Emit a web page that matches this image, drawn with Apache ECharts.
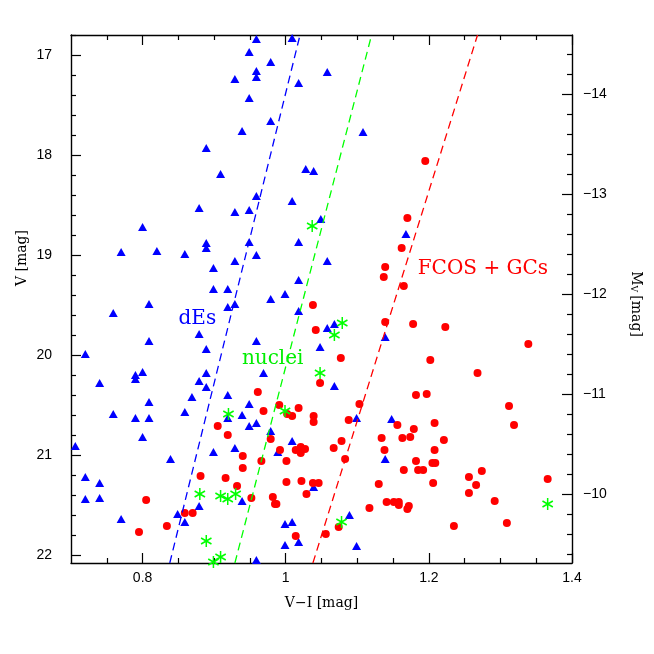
<!DOCTYPE html>
<html>
<head>
<meta charset="utf-8">
<script src="https://cdn.jsdelivr.net/npm/echarts@6/dist/echarts.min.js"></script>
<style>
html, body { margin: 0; background: #fff; }
#chart { width: 654px; height: 654px; }
</style>
</head>
<body>
<div id="chart"></div>
<script>
// distance modulus used for the right-hand axis (M_V = V - DM)
var DM = 31.39;

// dEs (blue triangles)
var dEsVI = [0.959, 1.009, 0.949, 0.979, 0.959, 0.929, 0.959, 1.018, 0.949, 0.979, 0.939, 0.889, 0.909, 1.028, 1.039,
  0.959, 1.009, 0.879, 0.929, 0.949, 1.058, 1.108, 1.049, 0.800, 0.889, 0.889, 0.949, 1.018, 0.770, 0.820, 0.859,
  0.959, 0.929, 0.899, 1.018, 0.899, 0.919, 0.809, 0.979, 0.999, 0.919, 0.929, 0.759, 1.018, 0.879, 0.809, 0.959,
  0.889, 0.720, 1.048, 0.969, 0.790, 0.800, 0.790, 0.740, 0.879, 0.889, 0.889, 0.919, 0.869, 1.168, 1.058, 1.058,
  1.068, 1.068, 1.139, 0.809, 0.949, 0.759, 0.859, 0.790, 0.809, 0.919, 0.939, 0.949, 0.959, 0.979, 0.800, 0.929,
  1.009, 0.706, 0.899, 0.989, 0.839, 0.720, 0.740, 1.039, 0.720, 0.740, 0.879, 0.939, 0.849, 0.859, 0.770, 0.999,
  1.009, 0.999, 1.018, 0.959, 1.099, 1.148, 1.139, 1.089, 1.099];
var dEsV = [16.84, 16.83, 16.97, 17.07, 17.16, 17.24, 17.22, 17.28, 17.43, 17.66, 17.76, 17.93, 18.19, 18.14, 18.16,
  18.41, 18.46, 18.53, 18.57, 18.55, 17.17, 17.77, 18.64, 18.72, 18.88, 18.93, 18.87, 18.87, 18.97, 18.96, 18.99,
  19.00, 19.06, 19.13, 19.25, 19.34, 19.34, 19.49, 19.44, 19.39, 19.52, 19.49, 19.58, 19.56, 19.79, 19.86, 19.86,
  19.94, 19.99, 19.92, 20.18, 20.20, 20.17, 20.24, 20.28, 20.26, 20.18, 20.32, 20.40, 20.42, 18.79, 19.06, 19.73,
  19.69, 20.31, 19.82, 20.47, 20.49, 20.59, 20.57, 20.63, 20.63, 20.63, 20.60, 20.71, 20.68, 20.76, 20.82, 20.93,
  20.86, 20.91, 20.97, 20.97, 21.04, 21.22, 21.28, 21.32, 21.44, 21.43, 21.51, 21.46, 21.59, 21.67, 21.64, 21.69,
  21.67, 21.90, 21.87, 22.05, 20.63, 20.64, 21.04, 21.60, 21.91];

// FCOS + GCs (red circles)
var fcosVI = [1.195, 1.170, 1.162, 1.139, 1.137, 1.165, 1.038, 1.139, 1.178, 1.223, 1.042, 1.339, 1.077, 1.202, 1.268,
  1.048, 1.182, 1.197, 0.961, 0.969, 0.991, 1.002, 1.009, 1.018, 1.039, 1.039, 0.905, 0.919, 0.979, 0.992, 1.014,
  1.021, 1.027, 1.021, 0.940, 0.966, 1.001, 0.940, 0.881, 0.916, 0.932, 1.001, 1.022, 1.038, 1.046, 1.029, 0.952,
  0.982, 0.985, 0.987, 0.805, 0.859, 0.870, 0.834, 0.795, 1.014, 1.103, 1.312, 1.319, 1.088, 1.156, 1.179, 1.208,
  1.134, 1.163, 1.174, 1.221, 1.078, 1.067, 1.138, 1.208, 1.083, 1.182, 1.205, 1.209, 1.165, 1.185, 1.192, 1.274,
  1.256, 1.266, 1.366, 1.206, 1.130, 1.256, 1.292, 1.141, 1.151, 1.158, 1.158, 1.172, 1.170, 1.117, 1.074, 1.056,
  1.235, 1.309];
var fcosV = [18.06, 18.63, 18.93, 19.12, 19.22, 19.31, 19.50, 19.67, 19.69, 19.72, 19.75, 19.89, 20.03, 20.05, 20.18,
  20.28, 20.40, 20.39, 20.37, 20.56, 20.50, 20.59, 20.61, 20.53, 20.61, 20.67, 20.71, 20.80, 20.84, 20.95, 20.95,
  20.92, 20.94, 20.98, 21.01, 21.06, 21.06, 21.13, 21.21, 21.23, 21.31, 21.27, 21.26, 21.28, 21.28, 21.39, 21.43,
  21.42, 21.49, 21.49, 21.45, 21.58, 21.58, 21.71, 21.77, 21.81, 20.49, 20.51, 20.70, 20.65, 20.70, 20.74, 20.68,
  20.83, 20.83, 20.82, 20.85, 20.86, 20.93, 20.95, 20.95, 21.04, 21.06, 21.08, 21.08, 21.15, 21.15, 21.15, 21.16,
  21.22, 21.30, 21.24, 21.28, 21.29, 21.38, 21.46, 21.47, 21.47, 21.47, 21.50, 21.51, 21.54, 21.53, 21.72, 21.79,
  21.71, 21.68];

// nuclei (green asterisks)
var nucVI = [1.037, 1.079, 1.068, 1.048, 0.920, 0.999, 0.880, 0.909, 0.919, 0.930, 0.889, 0.909, 0.899, 1.078, 1.366];
var nucV = [18.71, 19.68, 19.80, 20.18, 20.59, 20.56, 21.39, 21.41, 21.44, 21.39, 21.86, 22.02, 22.07, 21.67, 21.49];

// dashed separation lines: [bottom, top]
var blueLineVI = [0.838, 1.020];
var greenLineVI = [0.929, 1.120];
var redLineVI = [1.038, 1.268];
var lineV = [22.08, 16.8];

// axis ticks
var xMajor = [0.8, 1.0, 1.2, 1.4];
var xMinor = [0.75, 0.85, 0.9, 0.95, 1.05, 1.1, 1.15, 1.25, 1.3, 1.35];
var vMajor = [17, 18, 19, 20, 21, 22];
var mMajor = [-14, -13, -12, -11, -10];

var xMin = 0.7, xMax = 1.4, vMin = 16.8, vMax = 22.08;

function zip(a, b) {
  return a.map(function (v, i) { return [v, b[i]]; });
}
function minorSteps(lo, hi, step, skip) {
  var out = [];
  for (var k = Math.ceil(lo / step - 1e-6); k * step <= hi + 1e-6; k++) {
    var v = Math.round(k * step * 100) / 100;
    if (skip.indexOf(v) < 0) out.push(v);
  }
  return out;
}
var vMinor = minorSteps(vMin, vMax, 0.2, vMajor);
var mMinor = minorSteps(vMin - DM, vMax - DM, 0.2, mMajor);

var lbl = { fontFamily: 'Liberation Sans', fontSize: 14, color: '#000' };
var axLine = { show: true, lineStyle: { color: '#000', width: 1.4 } };

function xAx(pos, ticks, len, showLine, showLabel) {
  return {
    type: 'value', position: pos, min: xMin, max: xMax,
    axisLine: showLine ? axLine : { show: false },
    axisTick: { inside: true, length: len, customValues: ticks, lineStyle: { color: '#000', width: 1.2 } },
    axisLabel: showLabel ? Object.assign({ margin: 8, customValues: xMajor, formatter: function (v) { return String(+v.toFixed(1)); } }, lbl) : { show: false },
    splitLine: { show: false }
  };
}
function yAx(pos, lo, hi, ticks, len, showLine, labelVals, fmt, margin) {
  return {
    type: 'value', position: pos, min: lo, max: hi, inverse: true,
    axisLine: showLine ? axLine : { show: false },
    axisTick: { inside: true, length: len, customValues: ticks, lineStyle: { color: '#000', width: 1.2 } },
    axisLabel: labelVals ? Object.assign({ margin: margin, customValues: labelVals, formatter: fmt }, lbl) : { show: false },
    splitLine: { show: false }
  };
}

var chart = echarts.init(document.getElementById('chart'));
var dash = [8, 5];

chart.setOption({
  backgroundColor: '#fff',
  animation: false,
  grid: { left: 71, right: 82, top: 35, bottom: 91, containLabel: false, outerBoundsMode: 'none' },
  xAxis: [
    Object.assign(xAx('bottom', xMajor, 10, true, true), {
      name: 'V\u2212I [mag]', nameLocation: 'middle', nameGap: 33,
      nameTextStyle: { fontFamily: 'DejaVu Serif', fontSize: 14, color: '#000' }
    }),
    xAx('bottom', xMinor, 5, false, false),
    xAx('top', xMajor, 10, true, false),
    xAx('top', xMinor, 5, false, false)
  ],
  yAxis: [
    yAx('left', vMin, vMax, vMajor, 10, true, vMajor, function (v) { return String(Math.round(v)); }, 19),
    yAx('left', vMin, vMax, vMinor, 5, false, null),
    yAx('right', vMin - DM, vMax - DM, mMajor, 10, true, mMajor, function (v) { return '\u2212' + Math.abs(Math.round(v)); }, 11),
    yAx('right', vMin - DM, vMax - DM, mMinor, 5, false, null)
  ],
  series: [
    {
      type: 'line', data: zip(blueLineVI, lineV), symbol: 'none', silent: true,
      lineStyle: { color: '#0000ff', width: 1.3, type: dash }
    },
    {
      type: 'line', data: zip(greenLineVI, lineV), symbol: 'none', silent: true,
      lineStyle: { color: '#00ff00', width: 1.3, type: dash }
    },
    {
      type: 'line', data: zip(redLineVI, lineV), symbol: 'none', silent: true,
      lineStyle: { color: '#ff0000', width: 1.3, type: dash }
    },
    {
      type: 'scatter', data: zip(dEsVI, dEsV), symbol: 'triangle', symbolSize: [9, 8],
      itemStyle: { color: '#0000ff', opacity: 1 }
    },
    {
      type: 'scatter', data: zip(fcosVI, fcosV), symbol: 'circle', symbolSize: 8,
      itemStyle: { color: '#ff0000', opacity: 1 }
    },
    {
      type: 'scatter', data: zip(nucVI, nucV),
      symbol: 'path://M10,0L10,20M1.34,5L18.66,15M1.34,15L18.66,5', symbolSize: 12, symbolKeepAspect: true,
      itemStyle: { color: 'rgba(0,0,0,0)', borderColor: '#00ff00', borderWidth: 1.5, opacity: 1 }
    }
  ]
});

// axis titles on the sides and group labels
function px(vi, v) { return chart.convertToPixel({ xAxisIndex: 0, yAxisIndex: 0 }, [vi, v]); }
var dEsPos = px(0.8765, 19.64);
var nucPos = px(0.9818, 20.04);
var fcosPos = px(1.2755, 19.14);
var serif = 'DejaVu Serif';
chart.setOption({
  graphic: [
    { type: 'text', x: 22, y: 258, rotation: Math.PI / 2,
      style: { text: 'V [mag]', font: '14px ' + serif, fill: '#000', align: 'center', verticalAlign: 'middle' } },
    { type: 'text', x: 636, y: 304, rotation: -Math.PI / 2,
      style: { text: '{m|M}{s|V} {m|[mag]}', align: 'center', verticalAlign: 'middle',
        rich: { m: { font: '14px ' + serif, fill: '#000' }, s: { font: '9px ' + serif, fill: '#000', verticalAlign: 'bottom', padding: [6, 0, 0, 0] } } } },
    { type: 'text', x: dEsPos[0], y: dEsPos[1],
      style: { text: 'dEs', font: '20px ' + serif, fill: '#0000ff', align: 'center', verticalAlign: 'middle' } },
    { type: 'text', x: nucPos[0], y: nucPos[1],
      style: { text: 'nuclei', font: '20px ' + serif, fill: '#00ee00', align: 'center', verticalAlign: 'middle' } },
    { type: 'text', x: fcosPos[0], y: fcosPos[1],
      style: { text: 'FCOS + GCs', font: '20px ' + serif, fill: '#ff0000', align: 'center', verticalAlign: 'middle' } }
  ]
});
</script>
</body>
</html>
